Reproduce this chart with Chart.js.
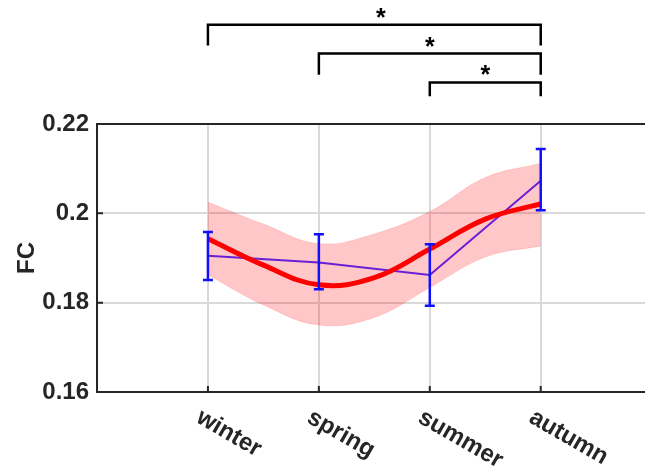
<!DOCTYPE html>
<html>
<head>
<meta charset="utf-8">
<script src="https://cdn.jsdelivr.net/npm/chart.js@4.4.0/dist/chart.umd.min.js"></script>
<style>
  html, body { margin: 0; padding: 0; background: #fff; }
</style>
</head>
<body>
<canvas id="chartCanvas" width="645" height="470"></canvas>
<script>
// Data
const seasons = ['winter', 'spring', 'summer', 'autumn'];
const fcMean = [0.1905, 0.1890, 0.1862, 0.2073];
const fcErrHigh = [0.1958, 0.1953, 0.1931, 0.2144];
const fcErrLow = [0.1851, 0.1830, 0.1793, 0.2007];

// fitted curve + band, read every half season
const fitX = [0, 0.5, 1, 1.5, 2, 2.5, 3];
const fitLine = [0.1943, 0.1884, 0.1840, 0.1856, 0.1920, 0.1987, 0.2021];
const fitUpper = [0.2025, 0.1976, 0.1932, 0.1954, 0.2004, 0.2080, 0.2112];
const fitLower = [0.1862, 0.1795, 0.1750, 0.1767, 0.1834, 0.1902, 0.1927];

const yTicks = [0.16, 0.18, 0.2, 0.22];

// significance brackets (season index pairs) and their levels in FC units
const sigPairs = [[0, 3], [1, 3], [2, 3]];
const sigBarY = [0.2422, 0.2358, 0.2293];
const sigLegY = [0.2376, 0.2310, 0.2262];
const sigStarX = [1.56, 2, 2.5];
const sigStarY = [0.2439, 0.2374, 0.2311];

const FONT = "'Liberation Sans', Arial, Helvetica, sans-serif";
const TEXT = '#262626';
Chart.defaults.font.family = FONT;
Chart.defaults.color = TEXT;

const pts = (xs, ys) => xs.map((x, i) => ({ x: x, y: ys[i] }));

let datasets = [
  { label: 'upper', data: pts(fitX, fitUpper), borderColor: 'rgba(255,0,0,0.12)', borderWidth: 1,
    backgroundColor: 'rgba(255,0,0,0.22)', fill: '+1', pointRadius: 0, tension: 0.4, order: 6 },
  { label: 'lower', data: pts(fitX, fitLower), borderColor: 'rgba(255,0,0,0.12)', borderWidth: 1,
    fill: false, pointRadius: 0, tension: 0.4, order: 5 },
  { label: 'mean', data: pts([0, 1, 2, 3], fcMean), borderColor: '#6a1fd6', borderWidth: 2,
    fill: false, pointRadius: 0, tension: 0, order: 4 },
  { label: 'fit', data: pts(fitX, fitLine), borderColor: '#ff0000', borderWidth: 5,
    fill: false, pointRadius: 0, tension: 0.4, order: 3 }
];

sigPairs.forEach((p, i) => {
  datasets.push({
    label: 'sig' + i,
    data: [{ x: p[0], y: sigLegY[i] }, { x: p[0], y: sigBarY[i] }, { x: p[1], y: sigBarY[i] }, { x: p[1], y: sigLegY[i] }],
    borderColor: '#000', borderWidth: 2.5, fill: false, pointRadius: 0, tension: 0,
    clip: false, order: 1
  });
});

// error bars, inner ticks, rotated season labels, stars
const extras = {
  id: 'extras',
  afterDatasetsDraw(chart) {
    const ctx = chart.ctx;
    const xs = chart.scales.x, ys = chart.scales.y;
    ctx.save();
    ctx.strokeStyle = '#1010ff';
    ctx.lineWidth = 2.5;
    seasons.forEach((s, i) => {
      const px = xs.getPixelForValue(i);
      const top = ys.getPixelForValue(fcErrHigh[i]);
      const bot = ys.getPixelForValue(fcErrLow[i]);
      ctx.beginPath();
      ctx.moveTo(px, top); ctx.lineTo(px, bot);
      ctx.moveTo(px - 5, top); ctx.lineTo(px + 5, top);
      ctx.moveTo(px - 5, bot); ctx.lineTo(px + 5, bot);
      ctx.stroke();
    });
    ctx.restore();
  },
  afterDraw(chart) {
    const ctx = chart.ctx;
    const xs = chart.scales.x, ys = chart.scales.y;
    const area = chart.chartArea;
    ctx.save();
    ctx.strokeStyle = TEXT;
    ctx.lineWidth = 2;
    ctx.beginPath();
    yTicks.slice(1, -1).forEach(v => {
      const py = ys.getPixelForValue(v);
      ctx.moveTo(area.left, py); ctx.lineTo(area.left + 6, py);
    });
    seasons.forEach((s, i) => {
      const px = xs.getPixelForValue(i);
      ctx.moveTo(px, area.bottom); ctx.lineTo(px, area.bottom - 6);
    });
    ctx.stroke();

    ctx.fillStyle = TEXT;
    ctx.font = 'bold 24px ' + FONT;
    ctx.textAlign = 'left';
    ctx.textBaseline = 'alphabetic';
    seasons.forEach((s, i) => {
      const px = xs.getPixelForValue(i);
      ctx.save();
      ctx.translate(px - 13, area.bottom + 29.5);
      ctx.rotate(Math.PI / 6);
      ctx.fillText(s, 0, 0);
      ctx.restore();
    });

    ctx.fillStyle = '#000';
    ctx.font = 'bold 25px ' + FONT;
    ctx.textAlign = 'center';
    sigStarX.forEach((x, i) => {
      const px = xs.getPixelForValue(x);
      const py = ys.getPixelForValue(sigStarY[i]);
      ctx.fillText('*', px, py + 9);
    });
    ctx.restore();
  }
};

new Chart(document.getElementById('chartCanvas'), {
  type: 'line',
  data: { datasets },
  options: {
    responsive: false,
    animation: false,
    devicePixelRatio: 1,
    layout: { padding: { top: 124, left: 0, right: 0, bottom: 0 } },
    plugins: { legend: { display: false }, tooltip: { enabled: false } },
    scales: {
      x: {
        type: 'linear',
        min: -1,
        max: 3.94,
        afterBuildTicks: scale => { scale.ticks = seasons.map((s, i) => ({ value: i })); },
        afterFit: scale => { scale.height = 78; scale.paddingLeft = 0; scale.paddingRight = 0; },
        ticks: { display: false },
        grid: { color: '#d9d9d9', lineWidth: 2, drawTicks: false },
        border: { color: TEXT, width: 2 }
      },
      y: {
        type: 'linear',
        min: 0.16,
        max: 0.22,
        afterBuildTicks: scale => { scale.ticks = yTicks.map(v => ({ value: v })); },
        afterFit: scale => { scale.width = 97; scale.paddingTop = 0; scale.paddingBottom = 0; },
        ticks: {
          padding: 8,
          color: TEXT,
          font: { size: 24, weight: 'bold' },
          callback: v => String(Number(v.toFixed(2)))
        },
        grid: {
          drawTicks: false,
          lineWidth: 2,
          color: c => c.index === 3 ? TEXT : (c.index === 0 ? 'rgba(0,0,0,0)' : '#d9d9d9')
        },
        border: { color: TEXT, width: 2 },
        title: {
          display: true,
          text: 'FC',
          color: TEXT,
          font: { size: 24, weight: 'bold' },
          padding: { top: 13, bottom: 0 }
        }
      }
    }
  },
  plugins: [extras]
});
</script>
</body>
</html>
